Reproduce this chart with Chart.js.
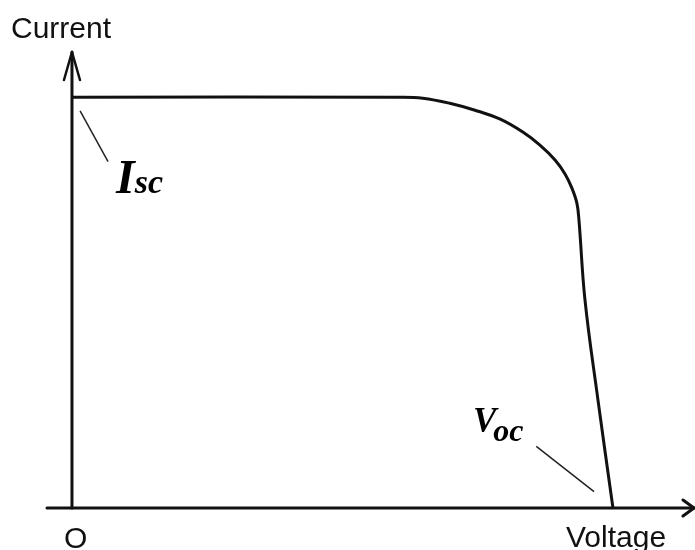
<!DOCTYPE html>
<html>
<head>
<meta charset="utf-8">
<script src="https://cdn.jsdelivr.net/npm/chart.js@4"></script>
<style>
  html, body { margin: 0; padding: 0; background: #fff; }
  #wrap { width: 695px; height: 550px; }
</style>
</head>
<body>
<div id="wrap"><canvas id="iv"></canvas></div>
<script>
// I-V curve of a solar cell (arbitrary units, Voc = 0.6, Isc = 3.0)
const voltage = [0, 0.364, 0.389, 0.419, 0.447, 0.475, 0.500, 0.519, 0.536, 0.547, 0.5545, 0.560, 0.5623, 0.569, 0.5834, 0.60];
const current = [3.0, 3.0, 2.993, 2.956, 2.905, 2.839, 2.745, 2.650, 2.540, 2.438, 2.336, 2.226, 2.102, 1.518, 0.788, 0];

// leader lines pointing to Isc and Voc
const iscLeaderV = [0.009, 0.040];
const iscLeaderI = [2.90, 2.53];
const vocLeaderV = [0.515, 0.579];
const vocLeaderI = [0.45, 0.12];

const xRange = [-0.0277, 0.691];
const yRange = [0, 3.33];

const toPoints = (xs, ys) => xs.map((x, i) => ({ x: x, y: ys[i] }));

// axes with open arrowheads, plus axis names and the Isc / Voc labels
const sketchAxes = {
    id: 'sketchAxes',
    afterDatasetsDraw(chart) {
        const { ctx, chartArea, scales } = chart;
        const x0 = scales.x.getPixelForValue(0);
        const y0 = scales.y.getPixelForValue(0);
        ctx.save();
        ctx.strokeStyle = '#111';
        ctx.lineWidth = 3;
        ctx.lineCap = 'round';
        ctx.lineJoin = 'round';

        // x axis
        ctx.beginPath();
        ctx.moveTo(chartArea.left, y0);
        ctx.lineTo(chartArea.right - 1, y0);
        ctx.stroke();
        ctx.beginPath();
        ctx.moveTo(chartArea.right - 12, y0 - 8);
        ctx.lineTo(chartArea.right - 1, y0);
        ctx.lineTo(chartArea.right - 12, y0 + 8);
        ctx.stroke();

        // y axis
        ctx.beginPath();
        ctx.moveTo(x0, y0);
        ctx.lineTo(x0, chartArea.top);
        ctx.stroke();
        ctx.lineWidth = 2.5;
        ctx.beginPath();
        ctx.moveTo(x0 - 8, chartArea.top + 28);
        ctx.lineTo(x0, chartArea.top);
        ctx.lineTo(x0 + 8, chartArea.top + 28);
        ctx.stroke();

        // axis names
        ctx.fillStyle = '#111';
        ctx.font = '30px "Liberation Sans", Arial, sans-serif';
        ctx.textBaseline = 'alphabetic';
        ctx.textAlign = 'left';
        ctx.fillText('Current', 11, 38);
        ctx.fillText('Voltage', 566, 547);
        ctx.fillText('O', 64, 548);

        // Isc label
        ctx.fillStyle = '#000';
        let lx = scales.x.getPixelForValue(0.0488);
        let ly = scales.y.getPixelForValue(2.30);
        ctx.font = 'italic bold 48px "Liberation Serif", "Times New Roman", serif';
        ctx.fillText('I', lx, ly);
        lx += ctx.measureText('I').width;
        ctx.font = 'italic bold 34px "Liberation Serif", "Times New Roman", serif';
        ctx.fillText('sc', lx, ly);

        // Voc label
        lx = scales.x.getPixelForValue(0.4447);
        ly = scales.y.getPixelForValue(0.555);
        ctx.font = 'italic bold 35px "Liberation Serif", "Times New Roman", serif';
        ctx.fillText('V', lx, ly);
        lx += ctx.measureText('V').width - 3;
        ctx.font = 'italic bold 32px "Liberation Serif", "Times New Roman", serif';
        ctx.fillText('oc', lx, ly + 9);
        ctx.restore();
    }
};

new Chart(document.getElementById('iv'), {
    type: 'scatter',
    data: {
        datasets: [
            {
                label: 'I-V',
                data: toPoints(voltage, current),
                showLine: true,
                borderColor: '#111',
                borderWidth: 3,
                pointRadius: 0,
                tension: 0.4,
                clip: false
            },
            {
                label: 'Isc leader',
                data: toPoints(iscLeaderV, iscLeaderI),
                showLine: true,
                borderColor: '#222',
                borderWidth: 1.5,
                pointRadius: 0
            },
            {
                label: 'Voc leader',
                data: toPoints(vocLeaderV, vocLeaderI),
                showLine: true,
                borderColor: '#222',
                borderWidth: 1.5,
                pointRadius: 0
            }
        ]
    },
    options: {
        responsive: true,
        maintainAspectRatio: false,
        animation: false,
        layout: { padding: { left: 47, right: 0, top: 52, bottom: 42 } },
        plugins: {
            legend: { display: false },
            tooltip: { enabled: false }
        },
        scales: {
            x: { type: 'linear', min: xRange[0], max: xRange[1], display: false },
            y: { type: 'linear', min: yRange[0], max: yRange[1], display: false }
        }
    },
    plugins: [sketchAxes]
});
</script>
</body>
</html>
